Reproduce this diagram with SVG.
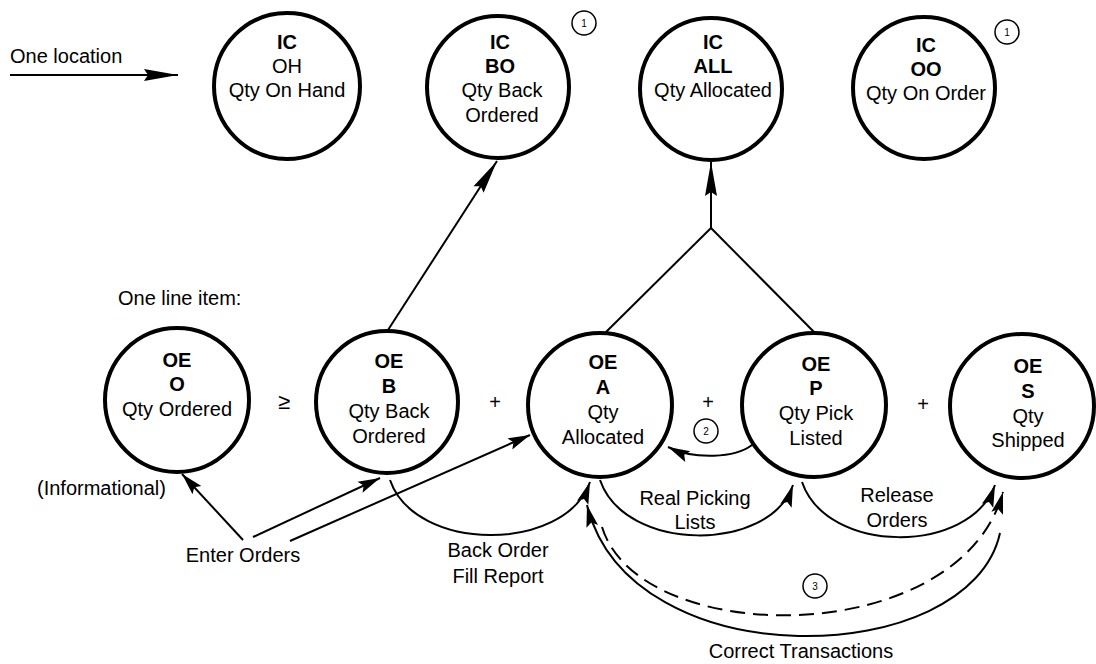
<svg xmlns="http://www.w3.org/2000/svg" width="1096" height="664" viewBox="0 0 1096 664">
<style>
text{font-family:"Liberation Sans",Arial,sans-serif;font-size:20px;fill:#000}
.c{text-anchor:middle}
.b{font-weight:bold}
.node{fill:#fff;stroke:#000;stroke-width:4}
.note{fill:#fff;stroke:#000;stroke-width:1.5}
.num{font-size:10px;text-anchor:middle}
.ln{fill:none;stroke:#000;stroke-width:2}
.dash{stroke-dasharray:15 8}
</style>
<defs>
<marker id="ah" viewBox="-24 -7 25 14" refX="0" refY="0" markerWidth="25" markerHeight="14" markerUnits="userSpaceOnUse" orient="auto">
<path d="M0,0 L-22,-6 L-18,0 L-22,6 Z" fill="#000"/>
</marker>
<marker id="ahl" viewBox="-36 -7 37 14" refX="0" refY="0" markerWidth="37" markerHeight="14" markerUnits="userSpaceOnUse" orient="auto">
<path d="M0,0 L-34,-6 L-30,0 L-34,6 Z" fill="#000"/>
</marker>
</defs>
<rect width="1096" height="664" fill="#fff"/>

<g id="connectors">
<line class="ln" x1="10" y1="75" x2="178" y2="75" marker-end="url(#ahl)"/>
<line class="ln" x1="388" y1="330" x2="497" y2="161" marker-end="url(#ahl)"/>
<line class="ln" x1="711" y1="228" x2="711" y2="162" marker-end="url(#ahl)"/>
<line class="ln" x1="605" y1="333" x2="711" y2="228"/>
<line class="ln" x1="815" y1="333" x2="711" y2="228"/>
<line class="ln" x1="243" y1="540" x2="182" y2="474" marker-end="url(#ah)"/>
<line class="ln" x1="253" y1="537" x2="380" y2="478" marker-end="url(#ah)"/>
<line class="ln" x1="290" y1="541" x2="530" y2="435" marker-end="url(#ah)"/>
<path class="ln" d="M752,445 C735,458 695,460 668,447" marker-end="url(#ah)"/>
<path class="ln" d="M390,480 C415,553 565,553 590,482" marker-end="url(#ah)"/>
<path class="ln" d="M600,480 C625,553 770,553 793,485" marker-end="url(#ah)"/>
<path class="ln" d="M802,482 C827,555 970,555 995,485" marker-end="url(#ah)"/>
<path class="ln" d="M1000,533 C970,670 630,680 587,505" marker-end="url(#ah)"/>
<path class="ln dash" d="M602,527 C640,650 960,650 1003,492" marker-end="url(#ah)"/>
</g>

<g id="ic-oh">
<circle class="node" cx="287" cy="86" r="73"/>
<text class="c b" x="287" y="49">IC</text>
<text class="c" x="287" y="73">OH</text>
<text class="c" x="287" y="97">Qty On Hand</text>
</g>
<g id="ic-bo">
<circle class="node" cx="498" cy="87" r="71"/>
<text class="c b" x="500" y="49">IC</text>
<text class="c b" x="500" y="73">BO</text>
<text class="c" x="502" y="97">Qty Back</text>
<text class="c" x="502" y="122">Ordered</text>
</g>
<g id="ic-all">
<circle class="node" cx="711" cy="89" r="71"/>
<text class="c b" x="713" y="49">IC</text>
<text class="c b" x="713" y="73">ALL</text>
<text class="c" x="713" y="97">Qty Allocated</text>
</g>
<g id="ic-oo">
<circle class="node" cx="924" cy="88" r="71"/>
<text class="c b" x="926" y="52">IC</text>
<text class="c b" x="926" y="76">OO</text>
<text class="c" x="926" y="100">Qty On Order</text>
</g>

<g id="oe-o">
<circle class="node" cx="177" cy="400" r="72"/>
<text class="c b" x="177" y="367">OE</text>
<text class="c b" x="177" y="391">O</text>
<text class="c" x="177" y="416">Qty Ordered</text>
</g>
<g id="oe-b">
<circle class="node" cx="387" cy="402" r="71"/>
<text class="c b" x="389" y="368">OE</text>
<text class="c b" x="389" y="393">B</text>
<text class="c" x="389" y="418">Qty Back</text>
<text class="c" x="389" y="443">Ordered</text>
</g>
<g id="oe-a">
<circle class="node" cx="600" cy="405" r="72"/>
<text class="c b" x="603" y="369">OE</text>
<text class="c b" x="603" y="394">A</text>
<text class="c" x="603" y="419">Qty</text>
<text class="c" x="603" y="444">Allocated</text>
</g>
<g id="oe-p">
<circle class="node" cx="814" cy="405" r="72"/>
<text class="c b" x="816" y="371">OE</text>
<text class="c b" x="816" y="395">P</text>
<text class="c" x="816" y="420">Qty Pick</text>
<text class="c" x="816" y="445">Listed</text>
</g>
<g id="oe-s">
<circle class="node" cx="1022" cy="406" r="72"/>
<text class="c b" x="1028" y="373">OE</text>
<text class="c b" x="1028" y="398">S</text>
<text class="c" x="1028" y="423">Qty</text>
<text class="c" x="1028" y="447">Shipped</text>
</g>

<g id="notes">
<circle class="note" cx="584" cy="23" r="12"/><text class="num" x="584" y="27">1</text>
<circle class="note" cx="1007" cy="32" r="12"/><text class="num" x="1007" y="36">1</text>
<circle class="note" cx="706" cy="431" r="12"/><text class="num" x="706" y="435">2</text>
<circle class="note" cx="815" cy="586" r="12"/><text class="num" x="815" y="590">3</text>
</g>

<g id="labels">
<text x="10" y="63">One location</text>
<text x="118" y="305">One line item:</text>
<text x="37" y="495">(Informational)</text>
<text class="c" style="font-size:22px" x="284" y="409">≥</text>
<text class="c" x="495" y="409">+</text>
<text class="c" x="708" y="409">+</text>
<text class="c" x="923" y="411">+</text>
<text class="c" x="243" y="562">Enter Orders</text>
<text class="c" x="498" y="557">Back Order</text>
<text class="c" x="498" y="583">Fill Report</text>
<text class="c" x="695" y="505">Real Picking</text>
<text class="c" x="695" y="529">Lists</text>
<text class="c" x="897" y="502">Release</text>
<text class="c" x="897" y="527">Orders</text>
<text class="c" x="801" y="658">Correct Transactions</text>
</g>
</svg>
